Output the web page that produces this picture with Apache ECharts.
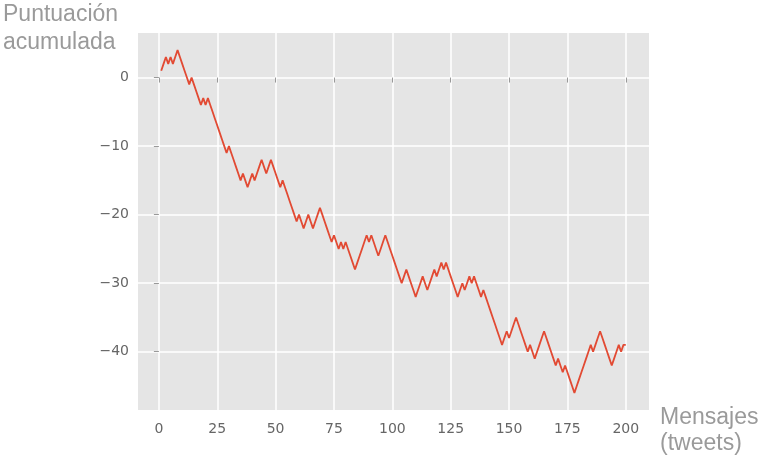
<!DOCTYPE html>
<html>
<head>
<meta charset="utf-8">
<title>Puntuación acumulada</title>
<script src="https://cdn.jsdelivr.net/npm/echarts@6/dist/echarts.min.js"></script>
<style>
	html, body { margin: 0; padding: 0; background: #fff; }
	#chart { width: 765px; height: 458px; }
</style>
</head>
<body>
<div id="chart"></div>
<script>
/* puntuación acumulada por mensaje */

// valores, mensaje 1..200
var puntuacion = [
	1, 2, 3, 2, 3, 2, 3, 4, 3, 2,
	1, 0, -1, 0, -1, -2, -3, -4, -3, -4,
	-3, -4, -5, -6, -7, -8, -9, -10, -11, -10,
	-11, -12, -13, -14, -15, -14, -15, -16, -15, -14,
	-15, -14, -13, -12, -13, -14, -13, -12, -13, -14,
	-15, -16, -15, -16, -17, -18, -19, -20, -21, -20,
	-21, -22, -21, -20, -21, -22, -21, -20, -19, -20,
	-21, -22, -23, -24, -23, -24, -25, -24, -25, -24,
	-25, -26, -27, -28, -27, -26, -25, -24, -23, -24,
	-23, -24, -25, -26, -25, -24, -23, -24, -25, -26,
	-27, -28, -29, -30, -29, -28, -29, -30, -31, -32,
	-31, -30, -29, -30, -31, -30, -29, -28, -29, -28,
	-27, -28, -27, -28, -29, -30, -31, -32, -31, -30,
	-31, -30, -29, -30, -29, -30, -31, -32, -31, -32,
	-33, -34, -35, -36, -37, -38, -39, -38, -37, -38,
	-37, -36, -35, -36, -37, -38, -39, -40, -39, -40,
	-41, -40, -39, -38, -37, -38, -39, -40, -41, -42,
	-41, -42, -43, -42, -43, -44, -45, -46, -45, -44,
	-43, -42, -41, -40, -39, -40, -39, -38, -37, -38,
	-39, -40, -41, -42, -41, -40, -39, -40, -39, -39
];
var xTicks = [0, 25, 50, 75, 100, 125, 150, 175, 200];
var yTicks = [-40, -30, -20, -10, 0];

var gris = '#666666';

function loadChart(){
	var chart = echarts.init(document.getElementById('chart'));

	// pares [mensaje, puntuación]
	var datos = [];
	for (var i = 0; i < puntuacion.length; i++) {
		datos.push([i + 1, puntuacion[i]]);
	}

	var option = {
		animation: false,
		title: [{
			text: 'Puntuación\nacumulada',
			left: 3,
			top: 1,
			padding: 0,
			textStyle: {
				fontFamily: 'Liberation Sans',
				fontSize: 23,
				fontWeight: 'normal',
				color: '#9a9a9a',
				lineHeight: 28
			}
		}, {
			text: 'Mensajes\n(tweets)',
			left: 660,
			top: 405,
			padding: 0,
			textStyle: {
				fontFamily: 'Liberation Sans',
				fontSize: 23,
				fontWeight: 'normal',
				color: '#9a9a9a',
				lineHeight: 26
			}
		}],
		grid: {
			left: 138,
			right: 116,
			top: 33,
			bottom: 48,
			show: true,
			backgroundColor: '#e5e5e5',
			borderWidth: 0
		},
		xAxis: {
			type: 'value',
			min: -8.95,
			max: 209.95,
			axisLine: { show: false },
			axisTick: {
				show: true,
				length: 5,
				lineStyle: { color: '#999' },
				customValues: xTicks
			},
			axisLabel: {
				customValues: xTicks,
				color: gris,
				fontFamily: 'DejaVu Sans',
				fontSize: 14,
				margin: 12
			},
			splitLine: {
				show: true,
				lineStyle: { color: '#ffffff', width: 1.5 }
			}
		},
		yAxis: {
			type: 'value',
			min: -48.5,
			max: 6.5,
			axisLine: { show: false },
			axisTick: {
				show: true,
				length: 5,
				lineStyle: { color: '#999' },
				customValues: yTicks
			},
			axisLabel: {
				customValues: yTicks,
				color: gris,
				fontFamily: 'DejaVu Sans',
				fontSize: 14,
				margin: 9,
				formatter: function(v){
					return String(v).replace('-', '\u2212');
				}
			},
			splitLine: {
				show: true,
				lineStyle: { color: '#ffffff', width: 1.5 }
			}
		},
		series: [{
			type: 'line',
			data: datos,
			showSymbol: false,
			lineStyle: { color: '#e24a33', width: 1.8 },
			z: 3
		}]
	};
	chart.setOption(option);
}

loadChart();
</script>
</body>
</html>
